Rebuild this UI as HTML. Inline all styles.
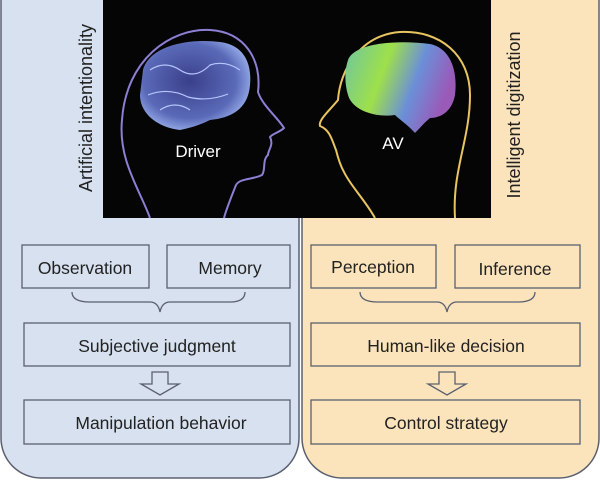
<!DOCTYPE html>
<html><head><style>
body{margin:0;width:600px;height:480px;overflow:hidden;background:#fff;font-family:"Liberation Sans",sans-serif;}
</style></head><body>
<svg width="600" height="480" xmlns="http://www.w3.org/2000/svg" font-family="Liberation Sans, sans-serif">
<defs>
<radialGradient id="bb" cx="0.45" cy="0.45" r="0.6"><stop offset="0" stop-color="#3a3f8a"/><stop offset="0.7" stop-color="#5a6ab8"/><stop offset="1" stop-color="#9fb4ef"/></radialGradient>
<linearGradient id="ab" x1="0" y1="0" x2="1" y2="0.3"><stop offset="0" stop-color="#6fc6a0"/><stop offset="0.4" stop-color="#9ee04a"/><stop offset="0.7" stop-color="#6b8fd8"/><stop offset="1" stop-color="#9a5ab8"/></linearGradient>
</defs>
<rect x="1" y="-40" width="298" height="518" rx="40" fill="#d7e1ef" stroke="#5a6070" stroke-width="1.5"/>
<rect x="302" y="-40" width="297" height="518" rx="40" fill="#fbe4bc" stroke="#5a6070" stroke-width="1.5"/>
<rect x="103" y="0" width="388" height="218" fill="#050505"/>
<path d="M150 218 C140 190 118 160 122 120 C126 60 170 28 210 30 C245 32 262 60 258 92 C262 105 278 118 284 128 C280 132 272 134 270 137 C274 145 268 150 268 155 C262 160 266 170 262 175 C252 180 240 178 236 185 C230 200 226 210 224 218" fill="none" stroke="#8e7fd4" stroke-width="2"/>
<path d="M143 70 C150 45 190 38 220 42 C245 45 252 65 250 85 C248 110 230 118 210 120 C200 125 190 128 180 130 C160 128 140 115 140 95 Z" fill="url(#bb)"/>
<path d="M150 70 q15 -10 30 0 q15 10 30 -5 q15 -5 30 5 M148 95 q20 -8 40 2 q20 5 40 -3 M160 110 q15 -10 30 0" fill="none" stroke="#b6c6ff" stroke-width="1.2"/>
<path d="M375 218 C365 200 350 185 344 172 C340 165 338 158 336 150 C332 140 330 130 320 126 C318 120 330 110 338 100 C340 70 360 35 400 32 C440 30 470 55 470 95 C470 140 452 170 455 218" fill="none" stroke="#e8c560" stroke-width="2"/>
<path d="M348 60 C355 42 400 40 430 44 C450 48 458 70 455 95 C452 112 440 118 430 118 C425 122 420 128 415 133 C408 125 400 120 395 115 C375 118 352 110 348 95 C345 85 344 72 348 60 Z" fill="url(#ab)"/>
<text x="198" y="157" font-size="17" fill="#fff" text-anchor="middle">Driver</text>
<text x="393" y="149" font-size="17" fill="#fff" text-anchor="middle">AV</text>
<text transform="translate(92 108) rotate(-90)" font-size="18" fill="#222" text-anchor="middle">Artificial intentionality</text>
<text transform="translate(520 115) rotate(-90)" font-size="18" fill="#222" text-anchor="middle">Intelligent digitization</text>
<g fill="none" stroke="#5a6070" stroke-width="1.3">
<rect x="22" y="245" width="127" height="43"/><rect x="167" y="245" width="123" height="43"/>
<rect x="24" y="323" width="266" height="43"/><rect x="24" y="400" width="266" height="44"/>
<rect x="311" y="245" width="125" height="43"/><rect x="455" y="245" width="125" height="43"/>
<rect x="311" y="323" width="269" height="43"/><rect x="311" y="400" width="269" height="44"/>
<path d="M72 292 Q72 302 90 302 L150 302 Q158 302 160 312 Q162 302 170 302 L230 302 Q245 302 245 292"/>
<path d="M360 292 Q360 302 378 302 L437 302 Q445 302 447 312 Q449 302 457 302 L518 302 Q535 302 535 292"/>
<path d="M152 372 L168 372 L168 384 L179 384 L160 395 L141 384 L152 384 Z"/>
<path d="M439 372 L455 372 L455 384 L466 384 L447 395 L428 384 L439 384 Z"/>
</g>
<g font-size="17.5" fill="#222" text-anchor="middle">
<text x="85" y="274">Observation</text><text x="230" y="274">Memory</text>
<text x="157" y="352">Subjective judgment</text><text x="161" y="429">Manipulation behavior</text>
<text x="373" y="273">Perception</text><text x="515" y="275">Inference</text>
<text x="446" y="352">Human-like decision</text><text x="446" y="429">Control strategy</text>
</g>
</svg>
</body></html>
